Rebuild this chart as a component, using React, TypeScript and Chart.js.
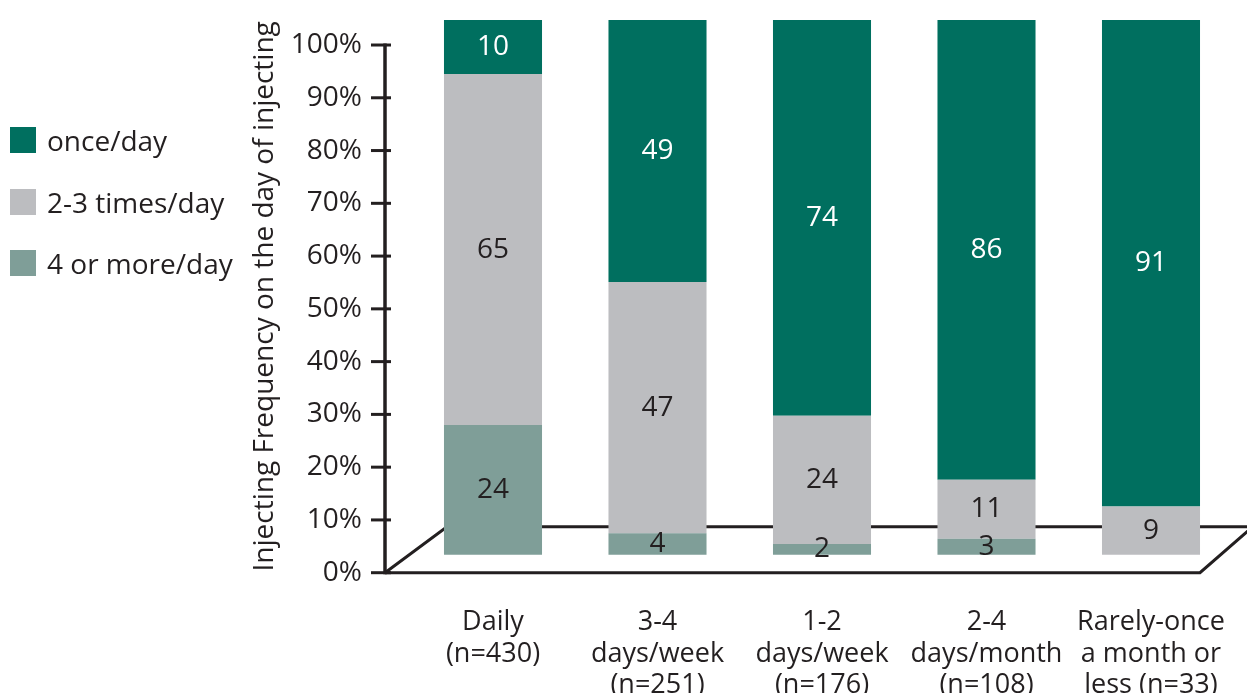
import React, { useEffect, useRef } from "react";
import { Chart, registerables } from "chart.js";

Chart.register(...registerables);

const CATEGORIES: string[][] = [
  ["Daily", "(n=430)"],
  ["3-4", "days/week", "(n=251)"],
  ["1-2", "days/week", "(n=176)"],
  ["2-4", "days/month", "(n=108)"],
  ["Rarely-once", "a month or", "less (n=33)"],
];
const SERIES_NAMES = ["once/day", "2-3 times/day", "4 or more/day"];
const ONCE_A_DAY = [10, 49, 74, 86, 91];
const TWO_THREE_A_DAY = [65, 47, 24, 11, 9];
const FOUR_PLUS_A_DAY = [24, 4, 2, 3, 0];
const Y_TICKS = [0, 10, 20, 30, 40, 50, 60, 70, 80, 90, 100];

const COLORS = ["#006F5F", "#BCBDC0", "#7F9E98"];
const TEXT = "#231F20";
const FONT = "'Open Sans', 'Noto Sans', sans-serif";

const totals = CATEGORIES.map((_, i) => ONCE_A_DAY[i] + TWO_THREE_A_DAY[i] + FOUR_PLUS_A_DAY[i]);
const pct = (arr: number[]) => arr.map((v, i) => (v / totals[i]) * 100);

const frame = {
  id: "frame",
  beforeDatasetsDraw(chart: any) {
    const { ctx, chartArea } = chart;
    const ys = chart.scales.y;
    const axisX = chartArea.left - 25.75;
    const y0 = ys.getPixelForValue(0);
    const y100 = ys.getPixelForValue(100);
    ctx.save();
    ctx.strokeStyle = TEXT;
    ctx.lineCap = "butt";
    // floor
    ctx.lineWidth = 3;
    const backY = y0 - 46;
    const frontRight = chartArea.right - 33.25;
    ctx.beginPath();
    ctx.moveTo(axisX, y0);
    ctx.lineTo(frontRight, y0);
    ctx.lineTo(frontRight + 54, backY - 1);
    ctx.moveTo(axisX, y0);
    ctx.lineTo(axisX + 62, backY);
    ctx.lineTo(frontRight + 60, backY);
    ctx.stroke();
    // axis line
    ctx.lineWidth = 3.5;
    ctx.beginPath();
    ctx.moveTo(axisX, y100 - 1.5);
    ctx.lineTo(axisX, y0 + 1.5);
    ctx.stroke();
    // tick marks
    ctx.lineWidth = 3;
    for (const t of Y_TICKS) {
      const py = ys.getPixelForValue(t);
      ctx.beginPath();
      ctx.moveTo(axisX - 14, py);
      ctx.lineTo(axisX + 6, py);
      ctx.stroke();
    }
    ctx.restore();
  },
};

const valueLabels = {
  id: "valueLabels",
  afterDatasetsDraw(chart: any) {
    const { ctx } = chart;
    ctx.save();
    ctx.font = `28px ${FONT}`;
    ctx.textAlign = "center";
    ctx.textBaseline = "middle";
    chart.data.datasets.forEach((ds: any, di: number) => {
      const meta = chart.getDatasetMeta(di);
      meta.data.forEach((el: any, i: number) => {
        const v = ds.rawValues[i];
        if (!v) return;
        ctx.fillStyle = di === 2 ? "#FFFFFF" : TEXT;
        ctx.fillText(String(v), el.x, (el.y + el.base) / 2);
      });
    });
    ctx.restore();
  },
};

export default function App() {
  const ref = useRef<HTMLCanvasElement>(null);

  useEffect(() => {
    if (!ref.current) return;
    const chart = new Chart(ref.current, {
      type: "bar",
      data: {
        labels: CATEGORIES,
        datasets: [
          { label: SERIES_NAMES[2], data: pct(FOUR_PLUS_A_DAY), rawValues: FOUR_PLUS_A_DAY, backgroundColor: COLORS[2], yAxisID: "yBar" } as any,
          { label: SERIES_NAMES[1], data: pct(TWO_THREE_A_DAY), rawValues: TWO_THREE_A_DAY, backgroundColor: COLORS[1], yAxisID: "yBar" } as any,
          { label: SERIES_NAMES[0], data: pct(ONCE_A_DAY), rawValues: ONCE_A_DAY, backgroundColor: COLORS[0], yAxisID: "yBar" } as any,
        ],
      },
      options: {
        animation: false,
        responsive: false,
        devicePixelRatio: 1,
        layout: { padding: { top: 20, right: 13.75, left: 0, bottom: 0 } },
        datasets: { bar: { categoryPercentage: 1, barPercentage: 0.596, borderWidth: 0 } },
        plugins: { legend: { display: false }, tooltip: { enabled: false } },
        scales: {
          x: {
            stacked: true,
            grid: { display: true, drawOnChartArea: false, drawTicks: true, tickLength: 34, color: "rgba(0,0,0,0)" },
            border: { display: false },
            ticks: { color: TEXT, font: { family: FONT, size: 27, lineHeight: 1.17 }, padding: 0, maxRotation: 0, autoSkip: false },
            afterFit: (s: any) => { s.height = 120.3; },
          },
          y: {
            position: "left",
            min: 0,
            max: 104.74,
            grid: { display: true, drawOnChartArea: false, drawTicks: true, tickLength: 48.75, color: "rgba(0,0,0,0)" },
            border: { display: false },
            afterBuildTicks: (s: any) => { s.ticks = Y_TICKS.map((v) => ({ value: v })); },
            ticks: { color: TEXT, font: { family: FONT, size: 28 }, padding: 0, callback: (v: any) => v + "%" },
            title: { display: true, text: "Injecting Frequency on the day of injecting", color: TEXT, font: { family: FONT, size: 28 }, padding: { top: 248, bottom: 0 } },
            afterFit: (s: any) => { s.width = 410.75; },
          },
          yBar: {
            display: false,
            stacked: true,
            min: -3.37,
            max: 100,
          },
        },
      } as any,
      plugins: [frame, valueLabels],
    });
    return () => chart.destroy();
  }, []);

  const legendItems = [0, 1, 2];
  return (
    <div style={{ position: "fixed", left: 0, top: 0, width: 1247, height: 693, background: "#fff", overflow: "hidden" }}>
      <canvas ref={ref} width={1247} height={693} style={{ position: "absolute", left: 0, top: 0 }} />
      {legendItems.map((i) => (
        <div key={i} style={{ position: "absolute", left: 10, top: 127 + i * 61.7, height: 26, display: "flex", alignItems: "center", whiteSpace: "nowrap" }}>
          <span style={{ display: "inline-block", width: 26, height: 26, background: COLORS[i] }} />
          <span style={{ marginLeft: 11, fontFamily: FONT, fontSize: 28, color: TEXT, lineHeight: "26px" }}>{SERIES_NAMES[i]}</span>
        </div>
      ))}
    </div>
  );
}
